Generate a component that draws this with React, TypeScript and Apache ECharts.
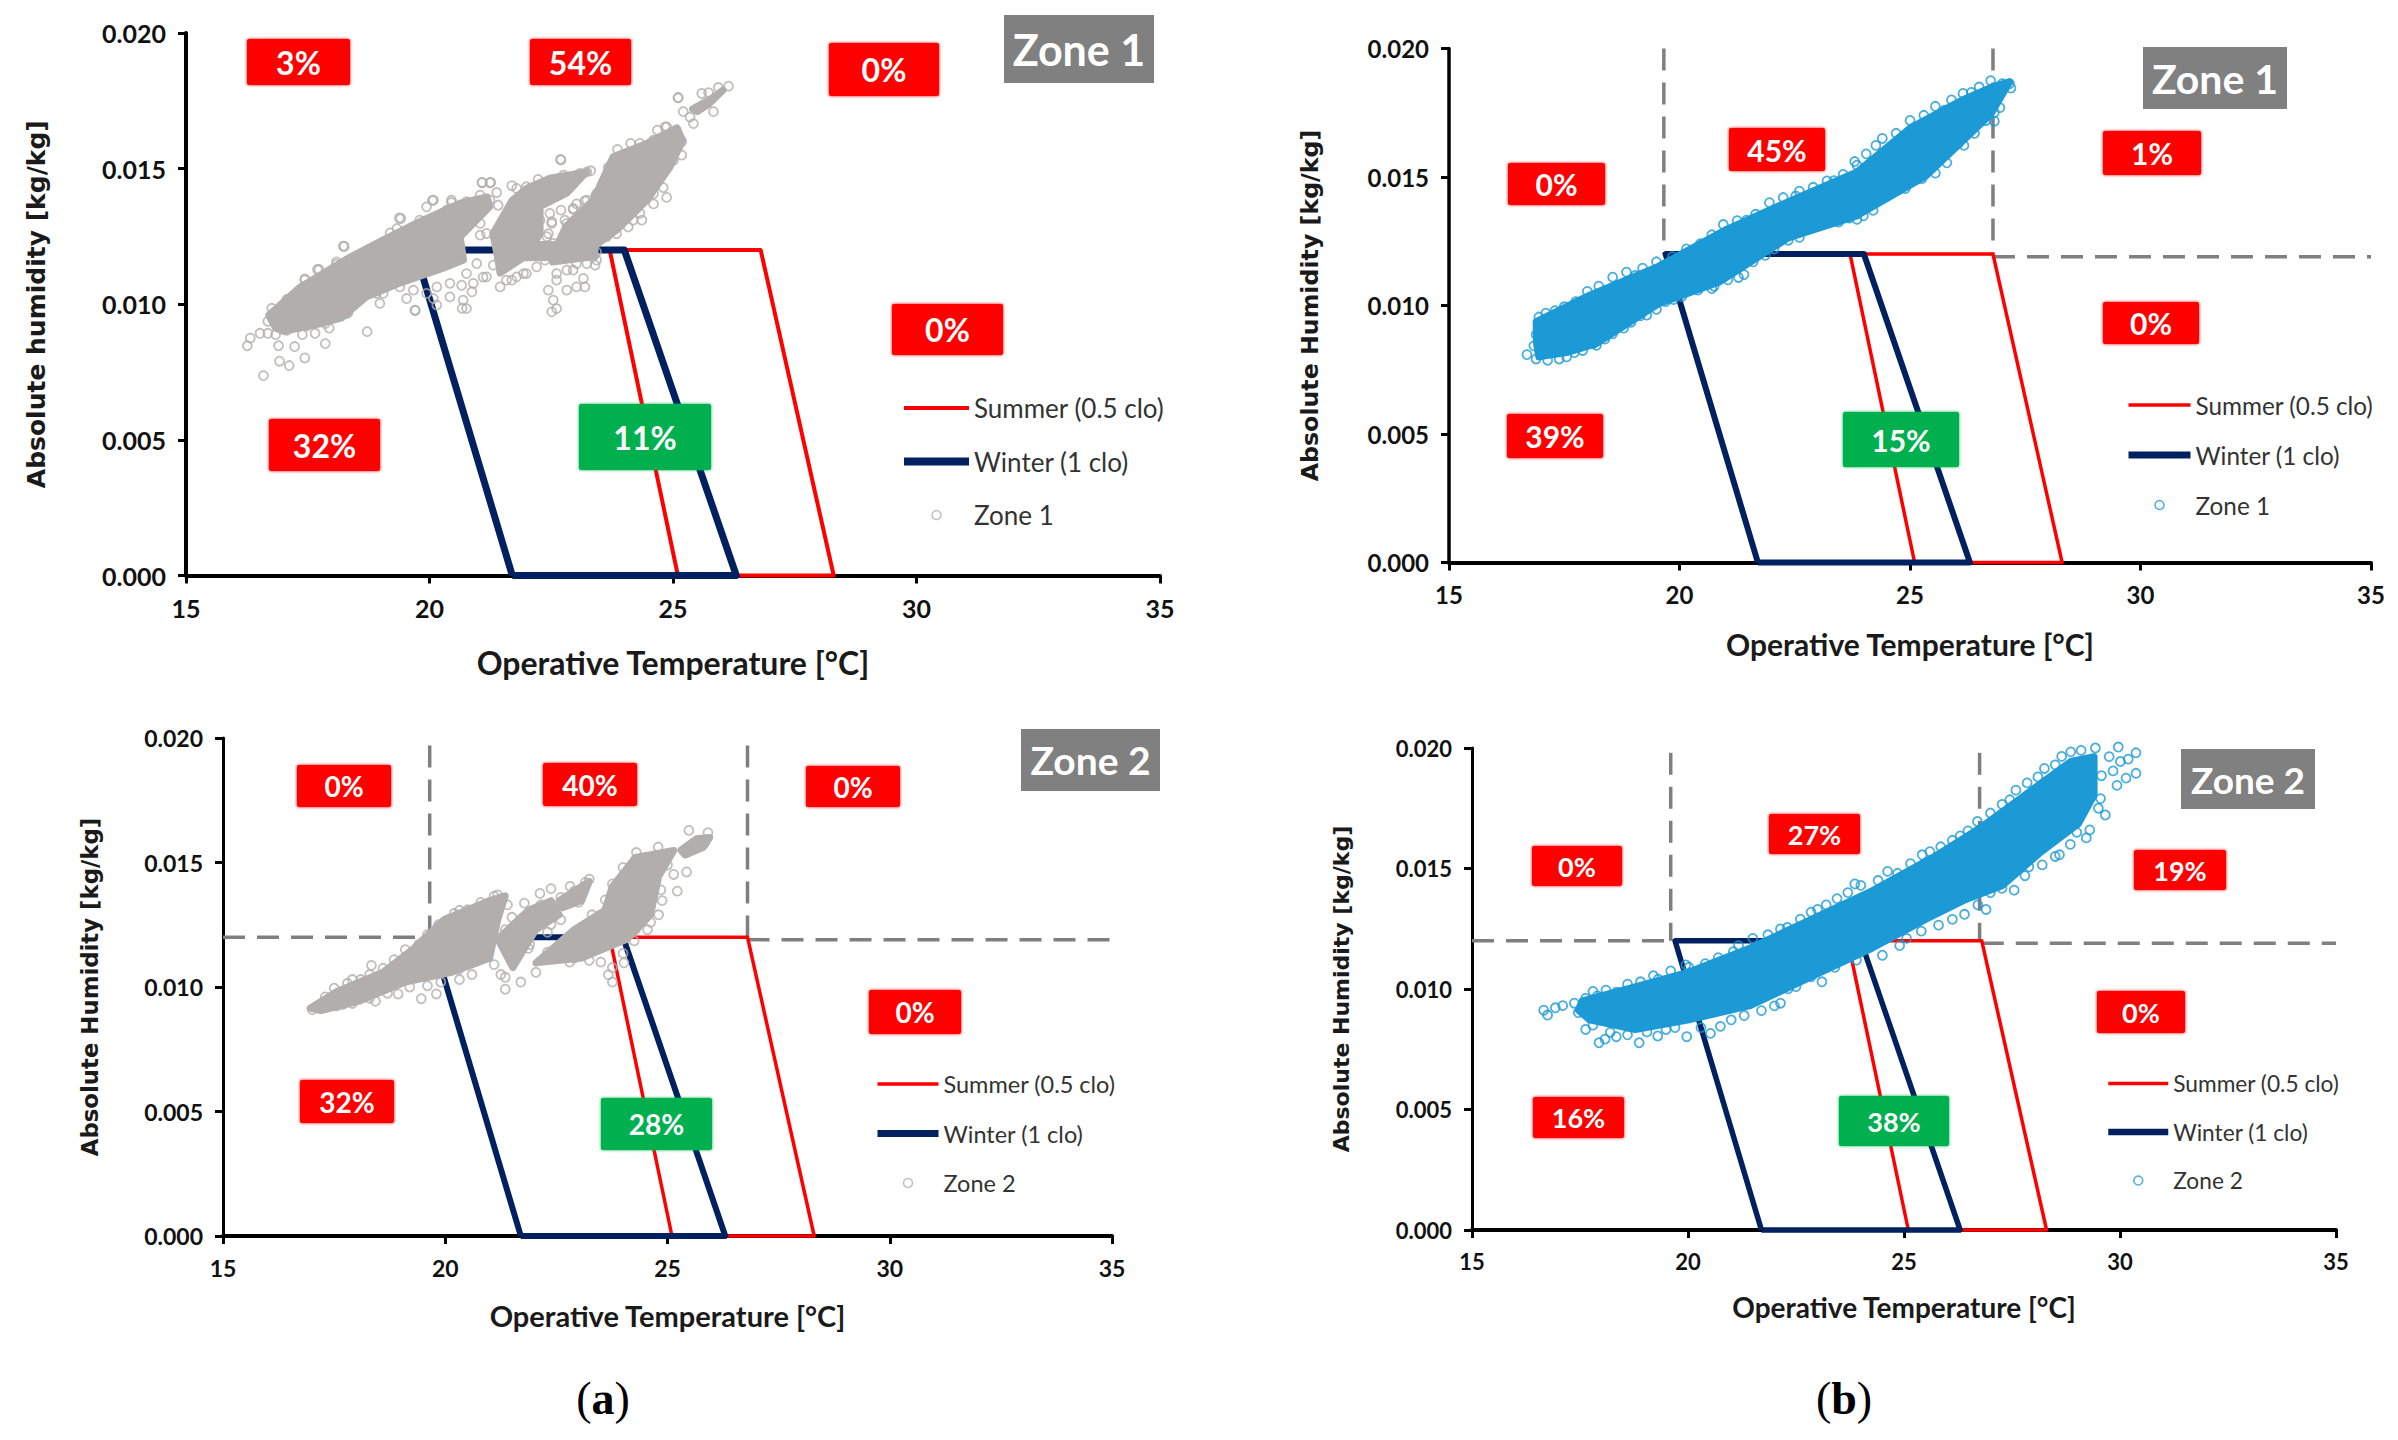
import React, { useEffect, useRef } from "react";
import * as echarts from "echarts";

const xTicksMin = 15;
const xTicksMax = 35;
const summerComfort = [[25.1, 0], [23.7, 0.012], [26.8, 0.012], [28.3, 0], [25.1, 0]];
const winterComfort = [[21.7, 0], [19.7, 0.012], [24.0, 0.012], [26.3, 0], [21.7, 0]];

// Scatter points readable at the edge of each cloud: [°C, g/kg]
const pointsA1 = [[26.14,18.04],[25.93,17.99],[25.73,17.8],[25.59,17.77],[25.11,17.62],[25.83,17.1],[25.42,16.66],[25.21,17.1],[25.35,16.9],[24.87,16.54],[24.68,16.42],[24.13,15.93],[23.86,15.71],[23.81,15.31],[23.67,15.04],[22.69,15.34],[23.31,14.92],[25.18,15.5],[24.8,14.3],[24.87,13.94],[24.6,13.7],[24.36,13.1],[23.84,12.6],[23.4,13.96],[23.19,13.81],[23.02,13.7],[22.95,13.5],[22.7,13.47],[22.51,13.04],[22.44,12.6],[22.78,13.1],[22.4,14.33],[22.23,14.6],[21.69,14.37],[21.26,14.49],[21.08,14.49],[21.38,14.12],[21.41,13.65],[20.08,13.84],[19.94,13.59],[20.45,13.84],[19.41,13.16],[19.19,12.63],[19.33,12.79],[18.23,12.14],[18.09,11.56],[17.73,11.28],[17.44,10.93],[19.53,10.21],[19.7,9.78],[20.08,10.21],[20.42,10.27],[20.15,9.97],[20.66,10.7],[20.69,10.15],[20.76,9.84],[20.87,10.46],[21.1,11.0],[21.45,10.64],[21.69,10.89],[21.93,11.13],[22.44,10.52],[22.61,10.89],[22.82,10.52],[23.02,10.64],[23.19,10.64],[23.16,10.95],[22.95,11.26],[22.54,10.15],[22.51,9.72],[22.61,9.84],[23.4,11.44],[18.98,10.03],[19.05,10.4],[18.64,10.27],[16.26,8.47],[16.32,8.75],[16.59,7.37],[16.92,7.9],[17.12,7.74],[17.44,8.02],[17.23,8.44],[16.9,8.47],[17.86,8.55],[17.65,8.93],[17.39,8.88],[16.52,8.93],[16.68,8.93],[16.76,9.53],[17.0,9.85],[17.44,10.9],[17.7,11.28],[18.09,11.48],[18.25,12.13],[18.72,8.99],[18.1,9.69],[17.94,9.12],[19.38,13.18],[20.06,13.83],[20.45,13.75],[21.08,14.48],[21.24,14.48],[22.7,15.32],[25.1,17.61],[20.67,9.85],[19.71,9.77],
[20.76,11.13],[20.97,11.5],[21.17,11.01],[21.31,11.44],[21.58,10.89],[21.79,11.01],[21.99,11.13],[22.2,11.38],[22.37,11.63],[22.61,11.13],[22.82,11.26],[23.02,11.5],[23.23,11.5],[23.43,11.63],[20.9,10.77],[20.42,10.77],[20.15,10.64],[19.94,10.4],[19.39,10.64],[19.26,10.77],[19.67,10.52],[18.91,10.4],[18.3,9.66],[18.16,9.91],[21.04,12.98],[21.17,12.61],[21.04,12.55],[22.47,13.35],[22.51,12.98],[22.41,12.49],[22.54,12.24],[22.82,12.98],[21.86,12.92],[22.27,13.1],[23.23,13.84],[22.95,13.53],[23.43,14.08],[23.53,14.27],[24.32,15.93],[24.6,16.05],[24.84,16.54],[25.07,16.42],[24.18,13.1],[24.32,13.35],[24.6,14.08],[25.01,15.31],[25.18,15.99],[24.08,12.85],[23.64,12.49],[23.43,11.93],[19.05,12.3],[18.85,12.0],[18.57,11.81],[19.39,12.49],[19.8,13.1],[20.35,13.47],[20.76,13.78],[21.04,14.02],[21.24,13.84],[21.79,14.27],[21.99,14.33],[22.75,14.76],[23.09,14.82],[23.23,14.88],[16.84,8.88],[17.07,9.04],[16.68,9.37],[16.76,9.85],[17.07,10.18],[17.39,10.42],[17.78,10.83],[18.09,11.15],[17.47,9.2],[17.86,9.29],[18.33,9.69],[18.57,10.18]];
const pointsB1 = [[16.69,8.09],[16.89,7.92],[17.14,7.87],[17.39,7.92],[16.84,8.43],[16.89,8.86],[16.97,9.29],[17.22,9.51],[17.72,8.17],[18.13,8.52],[18.38,8.69],[18.05,10.06],[18.38,10.57],[19.04,11.17],[20.37,12.12],[21.03,12.89],[21.45,13.32],[22.52,14.26],[23.35,14.86],[23.85,15.46],[24.26,16.23],[25.09,16.92],[25.75,17.6],[26.33,18.29],[27.16,18.63],[27.19,18.46],[27.0,18.63],[26.83,17.51],[26.83,17.17],[26.17,16.23],[25.26,14.94],[24.76,14.52],[23.99,13.49],[23.68,13.4],[22.85,13.06],[22.36,12.54],[21.86,11.95],[21.28,11.09],[20.7,10.66],[19.87,10.23],[19.29,9.63],[18.79,9.12],
[16.95,9.55],[17.1,9.7],[17.3,9.8],[17.5,9.95],[17.75,10.15],[18.0,10.55],[18.25,10.75],[18.55,11.1],[18.85,11.3],[19.2,11.45],[19.5,11.7],[19.85,11.9],[20.15,12.2],[20.45,12.4],[20.7,12.75],[20.95,13.15],[21.25,13.3],[21.65,13.55],[21.95,14.0],[22.25,14.2],[22.6,14.45],[22.9,14.6],[23.2,14.85],[23.55,15.1],[23.8,15.6],[24.05,15.9],[24.4,16.5],[24.7,16.7],[25.0,17.2],[25.3,17.4],[25.55,17.75],[25.9,18.0],[26.15,18.25],[26.5,18.5],[26.75,18.75],[17.0,8.2],[17.55,8.0],[17.9,8.25],[18.2,8.45],[18.55,8.9],[18.95,9.35],[19.15,9.6],[19.5,9.85],[19.7,10.15],[20.05,10.35],[20.4,10.6],[20.75,10.75],[21.05,11.0],[21.4,11.2],[21.6,11.7],[22.05,12.2],[22.6,12.65],[23.1,13.15],[23.45,13.25],[23.85,13.35],[24.2,13.7],[24.5,14.3],[24.9,14.55],[25.1,14.9],[25.55,15.15],[25.8,15.55],[26.05,16.3],[26.4,16.7],[26.65,17.2],[26.95,17.7]];
const pointsA2 = [[25.48,16.29],[25.91,16.2],[25.83,15.77],[25.4,15.39],[24.79,15.62],[24.28,15.1],[23.76,14.14],[23.24,14.33],[22.81,14.04],[22.38,13.95],[22.13,13.76],[21.78,13.37],[21.18,13.7],[20.32,13.08],[20.06,12.7],[18.34,10.87],[17.91,10.3],[17.01,9.09],[17.56,9.24],[17.91,9.34],[18.43,9.43],[18.94,9.72],[19.46,9.53],[19.8,9.72],[20.32,10.3],[21.35,9.91],[21.7,10.2],[21.35,10.39],[22.04,10.59],[23.24,11.07],[23.76,10.2],[23.67,10.49],[24.02,10.97],[23.76,10.78],[24.62,12.6],[25.14,14.52],[25.43,14.62],[25.22,13.85],[24.88,13.47],[23.76,13.47],[24.28,12.31],[22.38,12.51],[21.87,11.55],[22.9,11.16],[22.04,12.7],
[17.3,9.6],[17.5,9.95],[17.8,10.15],[18.1,10.3],[18.3,10.5],[18.6,10.75],[18.85,11.1],[19.1,11.5],[19.4,11.7],[19.6,12.1],[19.85,12.5],[20.2,12.95],[20.5,13.1],[20.8,13.4],[21.1,13.65],[21.4,13.3],[21.5,12.8],[21.35,12.3],[21.7,12.7],[21.95,13.0],[22.15,13.3],[22.6,13.6],[22.9,13.85],[23.15,14.2],[23.0,13.4],[22.6,12.7],[22.3,12.2],[21.9,11.7],[22.3,11.4],[22.8,11.0],[23.2,11.4],[23.5,11.0],[24.0,11.35],[24.25,11.85],[24.55,12.3],[24.8,12.9],[24.85,13.9],[25.0,14.9],[24.6,14.9],[24.3,15.4],[24.0,14.8],[23.6,13.5],[23.3,12.9],[21.1,10.9],[21.25,10.5],[20.6,10.5],[20.3,10.7],[19.9,10.2],[19.6,10.05],[19.2,10.0],[18.7,9.75],[18.3,9.55],[17.7,9.3],[17.3,9.2]];
const pointsB2 = [[16.66,9.12],[16.75,8.92],[16.93,9.22],[17.1,9.31],[17.37,9.41],[17.46,9.02],[17.63,9.61],[17.63,8.32],[17.94,7.77],[18.08,7.92],[18.34,8.02],[18.87,7.77],[19.05,8.22],[19.49,8.32],[19.97,8.02],[20.52,8.16],[21.0,8.72],[22.14,9.41],[22.32,10.01],[22.85,10.51],[23.56,11.3],[17.9,9.71],[18.34,9.87],[19.31,10.41],[20.02,10.9],[21.17,11.8],[22.14,12.49],[22.85,13.19],[23.2,13.49],[23.86,14.36],[24.62,14.88],[25.42,15.57],[26.12,16.17],[26.48,16.56],[27.27,17.66],[27.59,18.25],[28.25,19.15],[28.86,19.84],[29.43,20.0],[29.96,20.04],[30.37,19.8],[30.37,18.95],[30.14,18.75],[30.01,19.44],[29.75,19.64],[30.19,19.54],[29.93,18.45],[29.66,17.22],[29.22,16.27],[28.6,15.57],[27.89,15.07],[27.27,14.18],[26.71,13.49],[26.12,12.89],[25.06,12.1],[24.18,11.8],[29.22,18.45],[29.57,18.85],[29.84,19.05],
[17.8,9.9],[18.1,9.95],[18.6,10.2],[18.9,10.3],[19.2,10.55],[19.6,10.75],[19.95,11.0],[20.4,11.05],[20.7,11.3],[21.05,11.55],[21.5,12.1],[21.85,12.25],[22.3,12.55],[22.6,12.9],[23.0,13.3],[23.45,13.75],[23.7,14.0],[24.0,14.3],[24.4,14.5],[24.85,14.8],[25.15,15.2],[25.6,15.7],[25.85,15.9],[26.3,16.35],[26.7,16.95],[27.0,17.3],[27.45,17.85],[27.85,18.55],[28.1,18.8],[28.5,19.3],[28.65,19.65],[29.1,19.9],[17.8,8.5],[18.2,8.2],[18.6,8.1],[19.3,8.05],[19.7,8.4],[20.3,8.4],[20.75,8.45],[21.3,8.9],[21.7,9.1],[22.0,9.3],[22.5,10.1],[23.1,10.3],[23.4,10.9],[23.9,11.2],[24.5,11.4],[24.9,11.8],[25.4,12.4],[25.8,12.65],[26.4,13.1],[26.9,13.3],[27.0,14.0],[27.55,14.1],[27.8,14.7],[28.2,15.15],[28.5,15.5],[28.85,16.0],[29.0,16.5],[29.3,16.6],[29.5,17.5],[29.55,17.9]];

// Outlines of the regions where the markers merge into a solid mass: [°C, g/kg]
const massesA1 = [
  [[16.84,9.12],[16.7,9.6],[17.34,10.63],[18.37,11.74],[19.05,12.37],[19.74,13.0],[20.63,13.73],[21.18,13.96],[21.24,13.6],[20.63,12.48],[20.7,11.63],[20.28,11.33],[19.39,10.78],[18.7,10.27],[18.2,9.5],[17.8,9.3],[17.0,9.0]],
  [[21.3,12.6],[21.7,13.84],[22.0,14.28],[22.47,14.65],[23.23,14.88],[22.82,14.1],[22.27,13.6],[22.27,12.6],[22.0,11.8],[21.45,11.15],[21.38,11.9]],
  [[22.6,12.1],[22.8,12.87],[23.36,13.84],[23.77,15.44],[24.47,15.94],[25.08,16.5],[25.2,16.05],[24.94,15.06],[24.47,13.84],[23.85,12.74],[23.36,12.1],[23.3,11.74],[22.53,11.56]],
  [[21.4,12.2],[23.4,12.2],[23.4,11.75],[21.4,11.7]],
  [[25.4,17.2],[25.8,17.6],[26.03,17.9],[25.75,17.4],[25.5,17.1]],
];
const massesB1 = [
  [[16.89,9.37],[18.05,10.4],[19.54,11.52],[21.03,12.97],[22.52,14.17],[23.85,15.2],[25.0,16.9],[26.17,18.03],[26.83,18.54],[27.16,18.7],[27.0,18.2],[26.75,17.43],[25.34,15.03],[23.85,13.49],[22.36,12.63],[20.87,10.92],[19.54,10.06],[18.2,8.52],[17.55,8.17],[16.95,8.0],[16.9,8.5]],
];
const massesA2 = [
  [[16.96,9.15],[17.56,9.82],[18.6,10.59],[19.29,11.55],[19.97,12.7],[21.0,13.47],[21.35,13.66],[21.18,12.7],[21.0,11.16],[20.15,10.59],[19.1,10.2],[18.06,9.43],[17.2,9.05]],
  [[21.18,11.93],[21.87,13.08],[22.38,13.47],[22.56,12.9],[22.04,12.3],[21.52,10.78]],
  [[22.56,13.47],[23.24,14.24],[23.07,13.47],[22.64,13.18]],
  [[22.9,12.3],[23.59,13.08],[23.76,14.04],[24.28,15.2],[25.14,15.48],[24.8,14.43],[24.62,12.9],[24.1,11.93],[23.07,11.16],[22.04,10.97]],
  [[25.3,15.5],[25.65,15.95],[25.95,16.0],[25.8,15.6],[25.4,15.3]],
];
const massesB2 = [
  [[17.55,9.51],[18.6,10.0],[20.02,10.7],[21.44,11.7],[22.85,12.89],[24.27,14.08],[25.68,15.47],[26.74,16.66],[27.8,18.05],[28.86,19.44],[29.4,19.64],[29.4,18.05],[29.04,16.86],[28.16,15.67],[27.27,14.28],[26.39,13.68],[25.5,12.89],[24.27,11.7],[22.85,10.5],[21.44,9.31],[20.02,8.72],[18.78,8.32],[17.72,8.72],[17.46,9.12]],
];

const guidesB1 = [[[19.66,0.02],[19.66,0.012]],[[26.8,0.02],[26.8,0.012]],[[26.8,0.0119],[35,0.0119]]];
const guidesA2 = [[[19.65,0.0197],[19.65,0.012]],[[26.8,0.0197],[26.8,0.012]],[[15,0.012],[19.6,0.012]],[[26.8,0.0119],[35,0.0119]]];
const guidesB2 = [[[19.6,0.0198],[19.6,0.012]],[[26.75,0.0198],[26.75,0.012]],[[15,0.012],[19.6,0.012]],[[26.8,0.0119],[35,0.0119]]];

const percentsA1 = ["3%", "54%", "0%", "0%", "32%", "11%"];
const percentsB1 = ["0%", "45%", "1%", "0%", "39%", "15%"];
const percentsA2 = ["0%", "40%", "0%", "0%", "32%", "28%"];
const percentsB2 = ["0%", "27%", "19%", "0%", "16%", "38%"];

const GREY = "#b2aeac";
const BLUE = "#1c9ad6";
const RED = "#ff0000";
const NAVY = "#002060";
const GREEN = "#00b050";
const FONT = "Lato";
const CLEAR = "rgba(0,0,0,0)";

const layouts = [
  { zone: "Zone 1", yName: "Absolute humidity [kg/kg]", color: GREY, points: pointsA1, masses: massesA1, guides: [] as number[][][], percents: percentsA1,
    x0: 186, x1: 1160, yTop: 33, yBot: 575.5, tick: 25, xName: 32, yNameSize: 25, xGap: 71, yGap: 137, axisY: 4, navyW: 7, redW: 4,
    zoneBox: [1004, 1154, 15, 83], zoneFont: 43,
    boxes: [[247,350,39,85],[530,631,39,85],[829,939,43,96],[892,1003,304,355],[269,380,419,471],[579,711,404,470]], boxFont: 32,
    legend: { left: 900, top: 395, font: 26, gap: 27.5, w: 65 } },
  { zone: "Zone 1", yName: "Absolute Humidity [kg/kg]", color: BLUE, points: pointsB1, masses: massesB1, guides: guidesB1, percents: percentsB1,
    x0: 1449, x1: 2371, yTop: 48.5, yBot: 562.5, tick: 24, xName: 30, yNameSize: 23.7, xGap: 66, yGap: 127, axisY: 3.5, navyW: 6, redW: 3.5,
    zoneBox: [2143, 2287, 47, 109], zoneFont: 41,
    boxes: [[1508,1605,163,205],[1729,1825,128,171],[2103,2201,131,175],[2103,2199,302,344],[1507,1603,414,458],[1843,1959,412,467]], boxFont: 30,
    legend: { left: 2125, top: 393, font: 24.3, gap: 26, w: 62 } },
  { zone: "Zone 2", yName: "Absolute Humidity [kg/kg]", color: GREY, points: pointsA2, masses: massesA2, guides: guidesA2, percents: percentsA2,
    x0: 223, x1: 1112, yTop: 738, yBot: 1236, tick: 23, xName: 29, yNameSize: 22.8, xGap: 65, yGap: 122, axisY: 3, navyW: 6, redW: 3.5,
    zoneBox: [1021, 1160, 729, 791], zoneFont: 39,
    boxes: [[297,391,765,807],[543,637,763,806],[806,900,766,807],[869,961,990,1034],[300,394,1080,1123],[601,712,1098,1150]], boxFont: 28,
    legend: { left: 874, top: 1072, font: 23.5, gap: 25.5, w: 61 } },
  { zone: "Zone 2", yName: "Absolute Humidity [kg/kg]", color: BLUE, points: pointsB2, masses: massesB2, guides: guidesB2, percents: percentsB2,
    x0: 1472, x1: 2336, yTop: 748, yBot: 1230, tick: 22, xName: 28, yNameSize: 22, xGap: 63, yGap: 120, axisY: 3, navyW: 5.5, redW: 3.5,
    zoneBox: [2181, 2315, 749, 809], zoneFont: 37,
    boxes: [[1532,1622,846,886],[1769,1860,814,854],[2134,2226,850,890],[2097,2185,991,1033],[1533,1624,1097,1138],[1839,1949,1096,1146]], boxFont: 27,
    legend: { left: 2105, top: 1072, font: 22.7, gap: 25.5, w: 60 } },
];

const toKg = (rows: number[][]) => rows.map(([t, g]) => [t, g / 1000]);

function buildOption() {
  const grid: any[] = [], xAxis: any[] = [], yAxis: any[] = [], series: any[] = [], legend: any[] = [], graphic: any[] = [];
  layouts.forEach((p, i) => {
    grid.push({ left: p.x0, top: p.yTop, width: p.x1 - p.x0, height: p.yBot - p.yTop });
    xAxis.push({
      type: "value", gridIndex: i, min: xTicksMin, max: xTicksMax, interval: 5,
      name: "Operative Temperature [°C]", nameLocation: "middle", nameGap: p.xGap,
      nameTextStyle: { fontFamily: FONT, fontWeight: "bold", fontSize: p.xName, color: "#1a1a1a" },
      axisLine: { onZero: false, lineStyle: { color: "#000", width: 4 } },
      axisTick: { length: 8, lineStyle: { color: "#000", width: 3 } },
      axisLabel: { fontFamily: FONT, fontWeight: "bold", fontSize: p.tick, color: "#111", margin: 20 },
      splitLine: { show: false },
    });
    yAxis.push({
      type: "value", gridIndex: i, min: 0, max: 0.02, interval: 0.005,
      name: p.yName, nameLocation: "middle", nameGap: p.yGap, nameRotate: 90,
      nameTextStyle: { fontFamily: "DejaVu Sans", fontWeight: "bold", fontSize: p.yNameSize, color: "#1a1a1a" },
      axisLine: { onZero: false, lineStyle: { color: "#000", width: p.axisY } },
      axisTick: { length: 8, lineStyle: { color: "#000", width: 3 } },
      axisLabel: { fontFamily: FONT, fontWeight: "bold", fontSize: p.tick, color: "#111", margin: 20, formatter: (v: number) => v.toFixed(3) },
      splitLine: { show: false },
    });
    const common = { xAxisIndex: i, yAxisIndex: i };
    p.guides.forEach((g, k) => series.push({
      ...common, type: "line", name: `guide ${i}-${k}`, data: g, symbol: "none", z: 2, clip: false,
      lineStyle: { color: "#7f7f7f", width: 3.5, type: [22, 12] },
    }));
    series.push({ ...common, type: "line", name: "Summer (0.5 clo)", data: summerComfort, symbol: "none", z: 3, clip: false, lineStyle: { color: RED, width: p.redW, join: "round" } });
    series.push({ ...common, type: "line", name: "Winter (1 clo)", data: winterComfort, symbol: "none", z: 3, clip: false, lineStyle: { color: NAVY, width: p.navyW, join: "round" } });
    p.masses.forEach((m, k) => {
      const verts = toKg(m);
      series.push({
        ...common, type: "custom", name: `${p.zone} dense region ${i}-${k}`, coordinateSystem: "cartesian2d", data: verts, z: 4, clip: false,
        encode: { x: 0, y: 1 }, silent: true,
        renderItem: (params: any, api: any) => {
          if (params.dataIndex !== 0) return null;
          return { type: "polygon", shape: { points: verts.map((v) => api.coord(v)) },
            style: { fill: p.color, stroke: p.color, lineWidth: 7, lineJoin: "round" } };
        },
      });
    });
    series.push({
      ...common, type: "scatter", name: p.zone, data: toKg(p.points), symbol: "circle", symbolSize: 9, z: 5, clip: false,
      itemStyle: { color: CLEAR, borderColor: p.color, borderWidth: 1.8 },
    });
    const L = p.legend;
    const hideDot = { color: CLEAR, borderColor: CLEAR, borderWidth: 0 };
    legend.push({
      orient: "vertical", left: L.left, top: L.top, itemWidth: L.w, itemHeight: 9, itemGap: L.gap, selectedMode: false, padding: 0,
      textStyle: { fontFamily: FONT, fontSize: L.font, color: "#333" },
      data: [
        { name: "Summer (0.5 clo)", itemStyle: hideDot, lineStyle: { color: RED, width: p.redW } },
        { name: "Winter (1 clo)", itemStyle: hideDot, lineStyle: { color: NAVY, width: p.navyW + 1 } },
        { name: p.zone, itemStyle: { color: CLEAR, borderColor: p.color, borderWidth: 1.5 } },
      ],
    });
    const [zx0, zx1, zy0, zy1] = p.zoneBox;
    graphic.push({ type: "rect", z: 20, shape: { x: zx0, y: zy0, width: zx1 - zx0, height: zy1 - zy0 }, style: { fill: "#808080" } });
    graphic.push({ type: "text", z: 21, x: (zx0 + zx1) / 2, y: (zy0 + zy1) / 2, style: { text: p.zone, fill: "#fff", fontFamily: FONT, fontWeight: "bold", fontSize: p.zoneFont, align: "center", verticalAlign: "middle" } });
    p.boxes.forEach((b, k) => {
      const fill = k === 5 ? GREEN : RED;
      graphic.push({ type: "rect", z: 20, shape: { x: b[0], y: b[2], width: b[1] - b[0], height: b[3] - b[2], r: 2 }, style: { fill, shadowBlur: 3, shadowColor: fill } });
      graphic.push({ type: "text", z: 21, x: (b[0] + b[1]) / 2, y: (b[2] + b[3]) / 2, style: { text: p.percents[k], fill: "#fff", fontFamily: FONT, fontWeight: "bold", fontSize: p.boxFont, align: "center", verticalAlign: "middle" } });
    });
  });
  const caption = (t: string, x: number) => ({
    type: "text", z: 21, x, y: 1398,
    style: { text: `({b|${t}})`, fill: "#000", fontFamily: "Liberation Serif", fontSize: 46, align: "center", verticalAlign: "middle",
      rich: { b: { fontFamily: "Liberation Serif", fontWeight: "bold", fontSize: 46, fill: "#000" } } },
  });
  graphic.push(caption("a", 603), caption("b", 1844));
  return { animation: false, backgroundColor: "#fff", grid, xAxis, yAxis, series, legend, graphic: { elements: graphic } };
}

export default function App() {
  const ref = useRef<HTMLDivElement>(null);
  useEffect(() => {
    const chart = echarts.init(ref.current!, undefined, { renderer: "svg" });
    chart.setOption(buildOption());
    return () => chart.dispose();
  }, []);
  return <div ref={ref} style={{ position: "absolute", left: 0, top: 0, width: 2398, height: 1440 }} />;
}
